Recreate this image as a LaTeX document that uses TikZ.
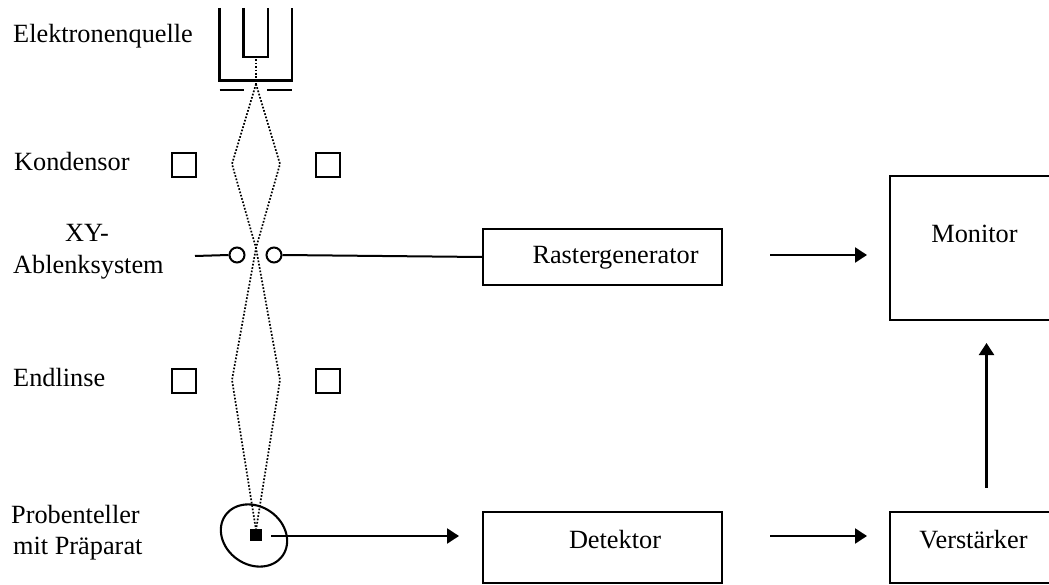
\documentclass[tikz,border=0pt]{standalone}
\usepackage{fontspec}
\setmainfont{Liberation Serif}
\usetikzlibrary{arrows.meta}
\tikzset{
  lbl/.style={inner sep=0pt,font=\fontsize{26.3}{30}\selectfont},
  llbl/.style={lbl,anchor=base west},
  clbl/.style={lbl,anchor=base},
  blockbox/.style={draw,line width=2pt,inner sep=0pt},
  thick line/.style={line width=2.1pt},
  thin line/.style={line width=2pt},
  beam/.style={line width=1.7pt,dash pattern=on 1.7pt off 1.7pt},
  lens/.style={draw,line width=2pt,minimum size=24pt,inner sep=0pt},
  ring/.style={draw,line width=2pt,circle,minimum size=15pt,inner sep=0pt},
  flow/.style={line width=2.3pt,-{Triangle[length=12pt,width=15pt]}},
}
\begin{document}
\begin{tikzpicture}[x=1pt,y=-1pt]
\useasboundingbox (0,0) rectangle (1049,585);
\clip (0,0) rectangle (1049,585);
% labels
\node[llbl] (tq) at (13,43) {Elektronenquelle};
\node[llbl] (tk) at (14,171) {Kondensor};
\node[clbl] (txy) at (87,242) {XY-};
\node[llbl] (tab) at (13,274) {Ablenksystem};
\node[llbl] (te) at (13,386) {Endlinse};
\node[llbl] (tp) at (11,523) {Probenteller};
\node[llbl] (tm) at (13,554) {mit Präparat};
% source
\draw[thick line] (219.5,8) -- (219.5,80.5) -- (291.7,80.5) -- (291.7,8);
\draw[thick line] (243.5,8) -- (243.5,57) -- (268,57) -- (268,8);
\draw[thick line] (219.5,90) -- (244,90);
\draw[thick line] (267,90) -- (292,90);
% beam
\coordinate (b0) at (256,56);
\coordinate (b1) at (256,84);
\coordinate (bl1) at (232,164);
\coordinate (br1) at (280,164);
\coordinate (bx) at (256,248);
\coordinate (bl2) at (232,380);
\coordinate (br2) at (280,380);
\coordinate (b2) at (256,530);
\draw[beam] (b0) -- (b1);
\draw[beam] (b1) -- (bl1) -- (bx) -- (br2) -- (b2);
\draw[beam] (b1) -- (br1) -- (bx) -- (bl2) -- (b2);
% lenses
\node[lens] (k1) at (184,165) {};
\node[lens] (k2) at (327.5,165) {};
\node[lens] (e1) at (184,380.5) {};
\node[lens] (e2) at (327.5,380.5) {};
% deflectors
\node[ring] (c1) at (237,255) {};
\node[ring] (c2) at (274,255) {};
\coordinate (ff) at (195,256);
% blocks
\node[blockbox,minimum width=239pt,minimum height=56pt] (rg) at (602.5,257) {};
\node[clbl] (rgt) at (615.5,264) {Rastergenerator};
\node[blockbox,minimum width=239pt,minimum height=70.5pt] (det) at (602.5,547.5) {};
\node[clbl] (dett) at (615,548) {Detektor};
\node[blockbox,minimum width=179pt,minimum height=144pt] (mon) at (979.5,248) {};
\node[clbl] (mont) at (974.5,243) {Monitor};
\node[blockbox,minimum width=179pt,minimum height=70.5pt] (ver) at (979.5,547.5) {};
\node[clbl] (vert) at (973.5,548) {Verstärker};
\draw[thin line] (ff) -- (c1.west);
\draw[thin line] (c2.east) -- (rg.west);
% sample
\draw[line width=2.1pt,rotate around={-35:(254,535.5)}] (254,535.5) ellipse (35pt and 29pt);
\node[fill=black,minimum size=12pt,inner sep=0pt] (s) at (256,535) {};
% arrows
\coordinate (a0) at (271,536);
\coordinate (a1) at (459,536);
\coordinate (a2) at (770,255);
\coordinate (a3) at (867,255);
\coordinate (a4) at (770,536);
\coordinate (a5) at (867,536);
\coordinate (a6) at (986.5,487.5);
\coordinate (a7) at (986.5,343);
\draw[flow] (a0) -- (a1);
\draw[flow] (a2) -- (a3);
\draw[flow] (a4) -- (a5);
\draw[flow] (a6) -- (a7);
\end{tikzpicture}
\end{document}
